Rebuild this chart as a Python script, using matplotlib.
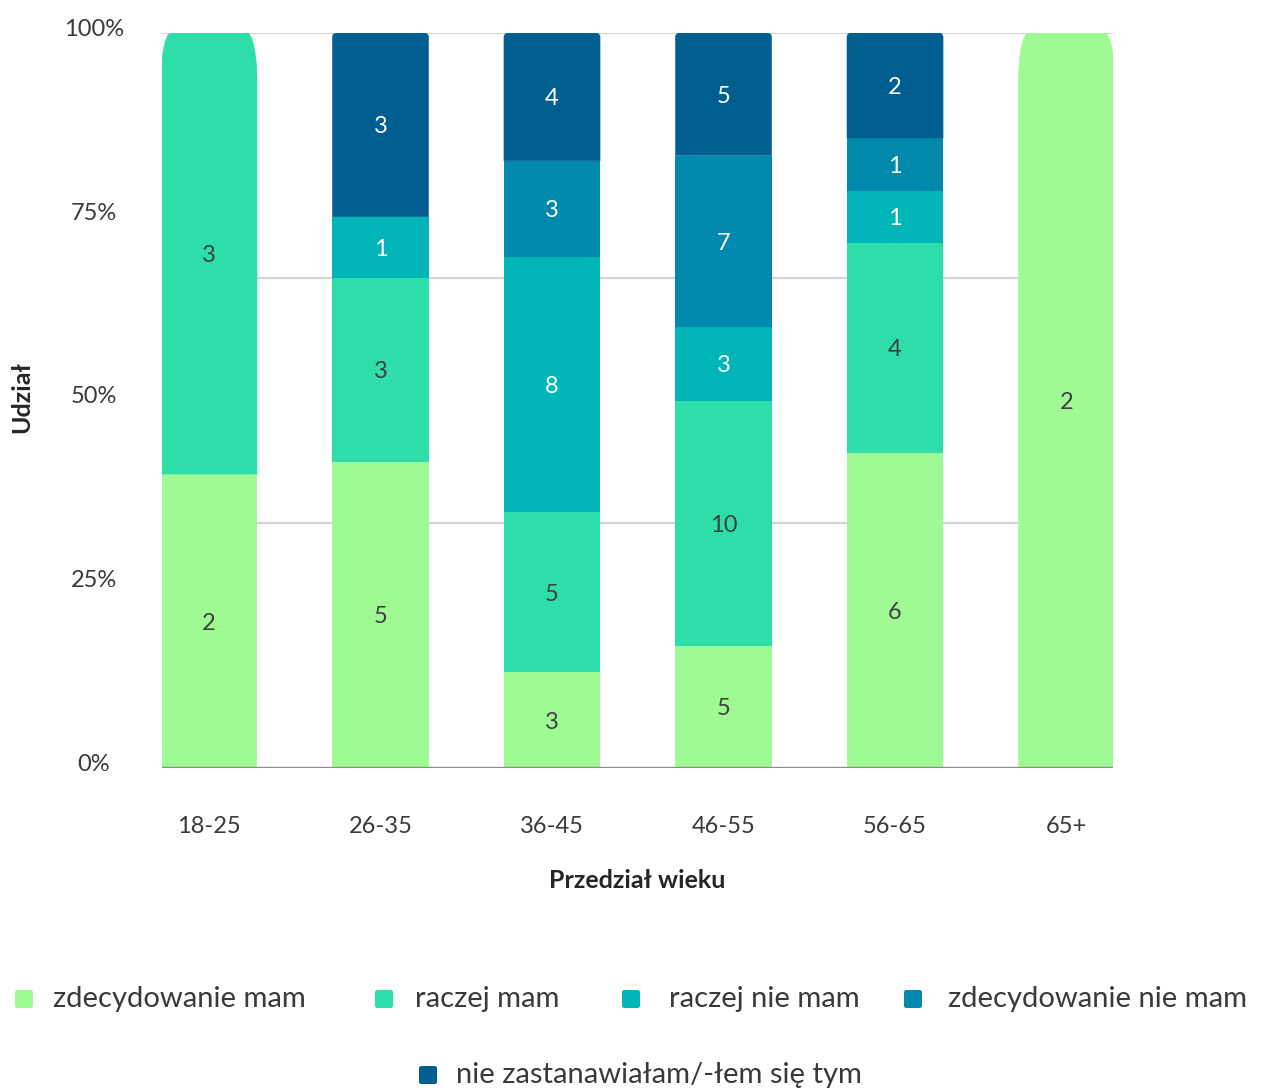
import matplotlib
matplotlib.use("Agg")
import matplotlib.pyplot as plt
from matplotlib.path import Path
from matplotlib.patches import PathPatch, FancyBboxPatch
from matplotlib.transforms import ScaledTranslation
import numpy as np

# answer counts per age group
age_groups = ['18-25', '26-35', '36-45', '46-55', '56-65', '65+']
answers = ['zdecydowanie mam', 'raczej mam', 'raczej nie mam',
           'zdecydowanie nie mam', 'nie zastanawiałam/-łem się tym']
zdecydowanie_mam = [2, 5, 3, 5, 6, 2]
raczej_mam = [3, 3, 5, 10, 4, 0]
raczej_nie_mam = [0, 1, 8, 3, 1, 0]
zdecydowanie_nie_mam = [0, 0, 3, 7, 1, 0]
nie_zastanawialam = [0, 3, 4, 5, 2, 0]
y_ticks = [0, 0.25, 0.5, 0.75, 1.0]
y_tick_labels = ['0%', '25%', '50%', '75%', '100%']

colors = ['#a0fa94', '#2ddeaa', '#00b5b8', '#0089ad', '#015e91']
label_colors = ['#404040', '#404040', 'white', 'white', 'white']
text_color = '#3a3a3a'

plt.rcParams['font.family'] = ['Lato', 'DejaVu Sans']

W, H = 1266, 1088
fig = plt.figure(figsize=(W / 100, H / 100), dpi=100)
ax = fig.add_axes([162 / W, 1 - 768 / H, (1113 - 162) / W, (768 - 33) / H])

counts = np.array([zdecydowanie_mam, raczej_mam, raczej_nie_mam,
                   zdecydowanie_nie_mam, nie_zastanawialam], dtype=float)
shares = counts / counts.sum(axis=0)
x = np.arange(len(age_groups))
bar_w = 0.56
xlim = (-0.274, 5.271)
ylim = (0, 1)
ax.set_xlim(*xlim)
ax.set_ylim(*ylim)

# pixel size of one data unit, for corner radii
px_x = (1113 - 162) / (xlim[1] - xlim[0])
px_y = (768 - 33) / (ylim[1] - ylim[0])


def rounded_top(x0, x1, y0, y1, rx, ry, color):
    k = 0.5523
    verts = [(x0, y0), (x0, y1 - ry),
             (x0, y1 - ry + k * ry), (x0 + rx - k * rx, y1), (x0 + rx, y1),
             (x1 - rx, y1),
             (x1 - rx + k * rx, y1), (x1, y1 - ry + k * ry), (x1, y1 - ry),
             (x1, y0), (x0, y0)]
    codes = [Path.MOVETO, Path.LINETO,
             Path.CURVE4, Path.CURVE4, Path.CURVE4,
             Path.LINETO,
             Path.CURVE4, Path.CURVE4, Path.CURVE4,
             Path.LINETO, Path.CLOSEPOLY]
    ax.add_patch(PathPatch(Path(verts, codes), facecolor=color,
                           edgecolor=color, lw=0.4, zorder=3))


# gridlines at thirds, baseline darker
for g in [1 / 3, 2 / 3, 1.0]:
    ax.axhline(g, color='#d4d4d4', lw=1.6, zorder=1)
ax.axhline(0, color='#8c8c8c', lw=2.4, zorder=4)

soft_tops = {'18-25', '65+'}
for j, grp in enumerate(age_groups):
    bottom = 0.0
    nonzero = [i for i in range(len(answers)) if counts[i, j] > 0]
    top_i = nonzero[-1]
    for i in nonzero:
        h = shares[i, j]
        if i == top_i:
            if grp in soft_tops:
                rx, ry = 10 / px_x, 48 / px_y
            else:
                rx, ry = 4 / px_x, 4 / px_y
            rounded_top(x[j] - bar_w / 2, x[j] + bar_w / 2, bottom,
                        bottom + h, rx, ry, colors[i])
        else:
            ax.bar(x[j], h, bottom=bottom, width=bar_w, color=colors[i],
                   linewidth=0, zorder=3)
        ax.text(x[j], bottom + h / 2, f'{int(counts[i, j])}', ha='center',
                va='center_baseline', fontsize=17, color=label_colors[i],
                zorder=5)
        bottom += h

for s in ax.spines.values():
    s.set_visible(False)

ax.set_yticks(y_ticks)
ax.set_yticklabels(y_tick_labels, fontsize=17, color=text_color, ha='center')
ax.tick_params(axis='y', length=0, pad=49)
for lab in ax.get_yticklabels():
    lab.set_transform(lab.get_transform() +
                      ScaledTranslation(0, 4 / 72, fig.dpi_scale_trans))

ax.set_xticks(x)
ax.set_xticklabels(age_groups, fontsize=17, color=text_color, va='center')
ax.tick_params(axis='x', length=0, pad=42)

fig.text(637 / W, 1 - 880 / H, 'Przedział wieku', ha='center', va='center',
         fontsize=18, fontweight='bold', color='#262626')
fig.text(22 / W, 1 - 397 / H, 'Udział', ha='center', va='center',
         rotation=90, fontsize=18, fontweight='bold', color='#262626')

# legend: four entries on the first row, one centered below
legend_pos = [(24, 53, 999), (384, 415, 999), (631, 669, 999),
              (913, 948, 999), (428, 456, 1075)]
sq = 18
for (mx, tx, ty), name, c in zip(legend_pos, answers, colors):
    fig.patches.append(FancyBboxPatch(
        ((mx - sq / 2) / W, 1 - (ty + sq / 2) / H), sq / W, sq / H,
        boxstyle='round,pad=0,rounding_size=0.002', transform=fig.transFigure,
        facecolor=c, edgecolor='none', figure=fig))
    fig.text(tx / W, 1 - ty / H, name, ha='left', va='center', fontsize=21,
             color=text_color)

fig.savefig('out.png', dpi=100)
